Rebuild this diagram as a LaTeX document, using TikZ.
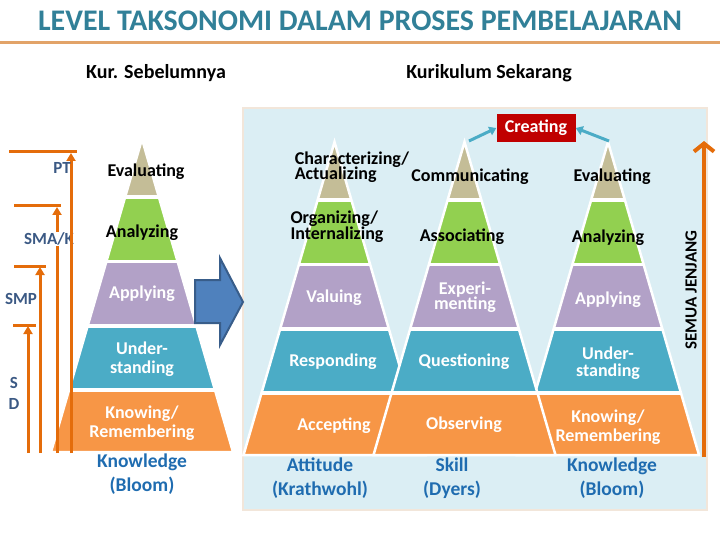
\documentclass[tikz,border=0pt]{standalone}
\usepackage{fontspec}
\setmainfont{Carlito}
\usetikzlibrary{arrows.meta, positioning}

\definecolor{titleteal}{RGB}{49,128,152}
\definecolor{ruleorange}{RGB}{226,163,104}
\definecolor{paneblue}{RGB}{219,238,244}
\definecolor{paneedge}{RGB}{242,230,218}
\definecolor{lyrtan}{RGB}{196,189,151}
\definecolor{lyrgreen}{RGB}{146,208,80}
\definecolor{lyrpurple}{RGB}{178,161,199}
\definecolor{lyrblue}{RGB}{75,172,198}
\definecolor{lyrorange}{RGB}{247,150,70}
\definecolor{jenjang}{RGB}{228,108,10}
\definecolor{schooltxt}{RGB}{59,89,132}
\definecolor{domaintxt}{RGB}{31,108,176}
\definecolor{createred}{RGB}{192,0,0}
\definecolor{shiftblue}{RGB}{79,129,189}
\definecolor{shiftedge}{RGB}{56,93,138}

\newcommand{\drawpyramid}[2]{%
  \begin{scope}
    \clip (#1,#2) -- (#1-91,#2+313) -- (#1+91,#2+313) -- cycle;
    \foreach \lyr/\ytop/\ybot in {lyrtan/0/58, lyrgreen/58/122.5, lyrpurple/122.5/187,
                                  lyrblue/187/251, lyrorange/251/313}
      \fill[\lyr] (#1-95,#2+\ytop) rectangle (#1+95,#2+\ybot);
    \foreach \ycut in {58,122.5,187,251}
      \draw[white, line width=3.5] (#1-95,#2+\ycut) -- (#1+95,#2+\ycut);
  \end{scope}
  \draw[white, line width=2.5] (#1,#2) -- (#1-91,#2+313) -- (#1+91,#2+313) -- cycle;
}

\begin{document}
\begin{tikzpicture}[
  x=1pt, y=-1pt,
  lbl/.style={font=\bfseries\fontsize{18}{19}\selectfont, align=center, inner sep=0pt},
  lblw/.style={lbl, text=white},
  domainlbl/.style={font=\bfseries\fontsize{19.5}{24}\selectfont, align=center,
                 text=domaintxt, inner sep=0pt},
  heading/.style={font=\bfseries\fontsize{20}{24}\selectfont, inner sep=0pt},
  school/.style={font=\bfseries\fontsize{17}{21}\selectfont, align=center,
                 text=schooltxt, inner sep=0pt},
  createbox/.style={rectangle, fill=createred, text=white, minimum width=79pt,
                    minimum height=28pt, font=\bfseries\fontsize{18}{20}\selectfont},
  creatarrow/.style={-{Triangle[length=7pt, width=9pt]}, line width=3, color=lyrblue},
  levelarrow/.style={-{Triangle[length=8pt, width=9pt]}, line width=3, color=jenjang},
  levelbar/.style={line width=3, color=jenjang},
  jenjangarrow/.style={-{Straight Barb[length=8pt, width=20pt]}, line width=4, color=jenjang}
]
\useasboundingbox (0,0) rectangle (720,540);

\node[font=\bfseries\fontsize{29.9}{36}\selectfont, text=titleteal] (title) at (360,21)
  {LEVEL TAKSONOMI DALAM PROSES PEMBELAJARAN};
\draw[ruleorange, line width=3] (0,43) -- (720,43);

\node[heading] (kurold) at (156,73) {Kur. Sebelumnya};
\node[heading] (kurnew) at (489,73) {Kurikulum Sekarang};

\draw[paneedge, fill=paneblue, line width=2.5] (243,108) rectangle (707,510);

\drawpyramid{142}{139}
\drawpyramid{334.5}{142}
\drawpyramid{608}{142}
\drawpyramid{464.5}{142}

\node[createbox] (creating) at (536,128) {Creating};
\coordinate (commtop) at (469,141);
\coordinate (evaltop) at (609,141);
\draw[creatarrow] (commtop) -- (creating.west);
\draw[creatarrow] (evaltop) -- (creating.east);

\draw[fill=shiftblue, draw=shiftedge, line width=2]
  (195,280) -- (220,280) -- (220,258) -- (243,302) -- (220,345) -- (220,323) -- (195,323) -- cycle;

\foreach \nm/\xs/\ytop/\xa/\xb in {sd/28/325/13/36, smp/40/266/14/46, sma/57/206/14/61}{
  \coordinate (\nm foot) at (\xs,453);
  \coordinate (\nm top) at (\xs,\ytop+1);
  \draw[levelarrow] (\nm foot) -- (\nm top);
  \draw[levelbar] (\xa,\ytop) -- (\xb,\ytop);
}
\node[school, fill=white, inner sep=1pt] (smalbl) at (49,239) {SMA/K};
\node[school] (smplbl) at (21,299) {SMP};
\node[school] (sdlbl) at (14,393) {S\\D};
\coordinate (ptfoot) at (71,453);
\coordinate (pttop) at (71,153);
\draw[levelarrow] (ptfoot) -- (pttop);
\draw[levelbar] (9,152) -- (77,152);
\node[school] (ptlbl) at (62,168) {PT};

\node[lbl] (evalold) at (146,172) {Evaluating};
\node[lbl] (anlzold) at (142,233) {Analyzing};
\node[lblw] (applold) at (142,294) {Applying};
\node[lblw] (undrold) at (142,359.5) {Under-\\standing};
\node[lblw] (knowold) at (142,423.5) {Knowing/\\Remembering};
\node[domainlbl] (bloomold) at (142,474) {Knowledge\\(Bloom)};

\node[lbl, align=left] (charact) at (352,167) {Characterizing/\\[-4pt]Actualizing};
\node[lbl, align=left] (organiz) at (337,227) {Organizing/\\[-3pt]Internalizing};
\node[lblw] (valuing) at (334,298) {Valuing};
\node[lblw] (respond) at (333,362) {Responding};
\node[lblw] (accept) at (334,426) {Accepting};
\node[domainlbl] (attitude) at (320,478) {Attitude\\(Krathwohl)};

\node[lbl] (communic) at (470,177) {Communicating};
\node[lbl] (associat) at (462,237) {Associating};
\node[lblw] (experim) at (465,297) {Experi-\\[-4pt]menting};
\node[lblw] (question) at (464,362) {Questioning};
\node[lblw] (observe) at (464,425) {Observing};
\node[domainlbl] (skill) at (452,478) {Skill\\(Dyers)};

\node[lbl] (evalnew) at (612,177) {Evaluating};
\node[lbl] (anlznew) at (608,238) {Analyzing};
\node[lblw] (applnew) at (608,300) {Applying};
\node[lblw] (undrnew) at (608,363.5) {Under-\\[-2pt]standing};
\node[lblw] (knownew) at (608,427) {Knowing/\\Remembering};
\node[domainlbl] (bloomnew) at (612,478) {Knowledge\\(Bloom)};

\coordinate (allfoot) at (704,457);
\coordinate (alltop) at (704,141);
\draw[jenjangarrow] (allfoot) -- (alltop);
\node[font=\bfseries\fontsize{17}{20}\selectfont, rotate=90, inner sep=0pt] (semua) at (691,290)
  {SEMUA JENJANG};

\end{tikzpicture}
\end{document}
